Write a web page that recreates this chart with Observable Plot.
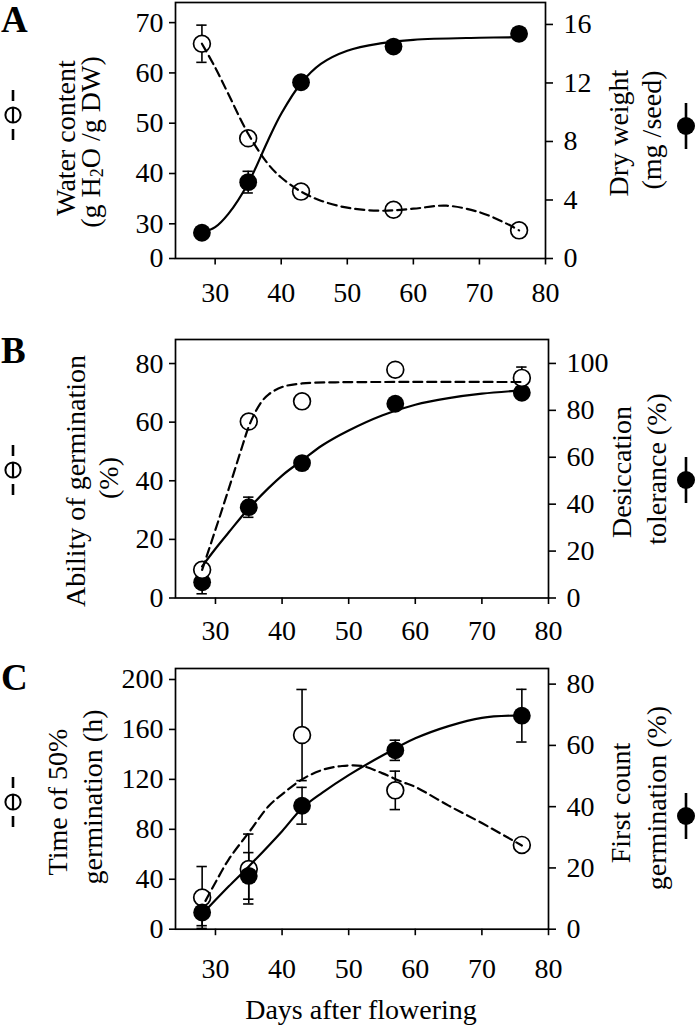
<!DOCTYPE html>
<html><head><meta charset="utf-8">
<script src="https://cdn.jsdelivr.net/npm/d3@7"></script>
<script src="https://cdn.jsdelivr.net/npm/@observablehq/plot@0.6"></script>
<style>
body{margin:0;background:#fff;}
#chart svg{display:block;}
</style>
</head><body><div id="chart"></div>
<script>
// ---------- shared ----------
const days = [28, 35, 43, 57, 76];
const xTicks = [30, 40, 50, 60, 70, 80];

// ---------- Panel A ----------
const waterContent    = [65.8, 47.0, 36.4, 32.8, 28.7];
const waterContentErr = [3.7, 0, 0, 0, 0];
const dryWeight       = [1.76, 5.22, 12.05, 14.49, 15.36];
const dryWeightErr    = [0, 0.74, 0, 0, 0];
const fitWaterDays    = [28, 30, 32, 35, 38, 40, 43, 46, 50, 55, 60, 65, 70, 74, 76];
const fitWaterVals    = [65.8, 61.1, 55.8, 47.9, 41.9, 39.2, 36.4, 34.6, 33.2, 32.6, 33.0, 33.6, 32.3, 30.1, 28.7];
const fitDryDays      = [28, 30, 32, 35, 38, 40, 43, 46, 50, 55, 60, 70, 76];
const fitDryVals      = [1.76, 2.14, 3.05, 5.15, 8.07, 9.89, 11.98, 13.3, 14.2, 14.7, 14.95, 15.09, 15.13];
const leftTicksA  = [0, 30, 40, 50, 60, 70];
const rightTicksA = [0, 4, 8, 12, 16];

// ---------- Panel B ----------
const germAbility     = [9.6, 60.2, 67.1, 77.9, 75.1];
const germAbilityErr  = [0, 0, 0, 0, 3.7];
const desiccTol       = [6.7, 38.7, 57.5, 82.8, 87.5];
const desiccTolErr    = [4.9, 4.3, 0, 0, 0];
const fitAbilityDays  = [28, 30, 32, 34, 35, 36, 37, 38, 40, 43, 48, 55, 76];
const fitAbilityVals  = [9.6, 23.3, 37.3, 51.6, 58.5, 63.5, 67.2, 69.5, 72.0, 73.2, 73.6, 73.7, 73.7];
const fitDesiccDays   = [28, 30, 32, 35, 40, 43, 46, 50, 55, 60, 65, 70, 76];
const fitDesiccVals   = [13.5, 21, 28, 38.2, 52.2, 58.6, 65, 71.4, 77.8, 82.4, 85.2, 87.1, 88.5];
const leftTicksB  = [0, 20, 40, 60, 80];
const rightTicksB = [0, 20, 40, 60, 80, 100];

// ---------- Panel C ----------
const time50          = [25.4, 48.2, 155.5, 111.2, 67.5];
const time50Err       = [24.8, 28, 36.5, 15.4, 0];
const firstCount      = [5.45, 17.4, 40.3, 58.4, 69.7];
const firstCountErr   = [4.3, 7.6, 6, 3.3, 8.6];
const fitTimeDays     = [28.5, 30, 32, 35, 38, 40, 43, 46, 49, 52, 55, 58, 60, 65, 70, 76];
const fitTimeVals     = [22.7, 37.4, 56, 77.4, 98.7, 108, 120, 127.5, 130.7, 130.7, 125, 118, 114, 99, 85, 67];
const fitFirstDays    = [28, 30, 32, 35, 40, 43, 46, 50, 55, 60, 65, 70, 76];
const fitFirstVals    = [4.9, 9.5, 14, 20.5, 32, 39.5, 44.5, 50.3, 56.6, 62.3, 66.3, 69, 69.8];
const leftTicksC  = [0, 40, 80, 120, 160, 200];
const rightTicksC = [0, 20, 40, 60, 80];

const FONT = "'Liberation Serif', 'Times New Roman', serif";
const TICKFS = 28;

function panel(cfg) {
  const toL = d3.scaleLinear().domain(cfg.rightDomain).range(cfg.leftDomain);
  const leftPos = v => (v === 0 && cfg.leftBreak != null) ? cfg.leftBreak : v;
  const leftLabel = new Map(cfg.leftTicks.map(v => [leftPos(v), String(v)]));
  const rightLabel = new Map(cfg.rightTicks.map(v => [toL(v), String(v)]));

  const open = days.map((d, i) => ({x: d, y: cfg.openVals[i], lo: cfg.openVals[i] - cfg.openErr[i], hi: cfg.openVals[i] + cfg.openErr[i], e: cfg.openErr[i]}));
  const filled = days.map((d, i) => ({x: d, y: toL(cfg.fillVals[i]), lo: toL(cfg.fillVals[i] - cfg.fillErr[i]), hi: toL(cfg.fillVals[i] + cfg.fillErr[i]), e: cfg.fillErr[i]}));
  const openFit = cfg.openFitDays.map((d, i) => ({x: d, y: cfg.openFitVals[i]}));
  const fillFit = cfg.fillFitDays.map((d, i) => ({x: d, y: toL(cfg.fillFitVals[i])}));

  const CAP = 0.78;
  const errMarks = rows => {
    const r = rows.filter(d => d.e > 0);
    return [
      Plot.ruleX(r, {x: "x", y1: "lo", y2: "hi", stroke: "black", strokeWidth: 1.6}),
      Plot.ruleY(r, {y: "lo", x1: d => d.x - CAP, x2: d => d.x + CAP, stroke: "black", strokeWidth: 1.6}),
      Plot.ruleY(r, {y: "hi", x1: d => d.x - CAP, x2: d => d.x + CAP, stroke: "black", strokeWidth: 1.6})
    ];
  };
  const openDots = Plot.dot(open, {x: "x", y: "y", r: 8.4, fill: "white", stroke: "black", strokeWidth: 1.7});
  const fillDots = Plot.dot(filled, {x: "x", y: "y", r: 8.9, fill: "black", stroke: "none"});

  const svg = Plot.plot({
    width: 696,
    height: cfg.height,
    marginLeft: 175,
    marginRight: cfg.marginRight,
    marginTop: cfg.marginTop,
    marginBottom: cfg.marginBottom,
    style: {fontFamily: FONT, fontSize: TICKFS + "px", background: "white", color: "black", overflow: "visible"},
    x: {domain: [24, 80]},
    y: {domain: cfg.leftDomain},
    marks: [
      Plot.axisX(xTicks, {tickSize: 6.5, tickPadding: cfg.xPad, strokeWidth: 1.6, label: null, fontSize: TICKFS}),
      Plot.axisY(cfg.leftTicks.map(leftPos), {anchor: "left", tickSize: 6, tickPadding: 6, strokeWidth: 1.6, label: null, tickFormat: d => leftLabel.get(d), fontSize: TICKFS}),
      Plot.axisY(cfg.rightTicks.map(toL), {anchor: "right", tickSize: 7, tickPadding: 11, strokeWidth: 1.6, label: null, tickFormat: d => rightLabel.get(d), fontSize: TICKFS}),
      ...errMarks(open),
      ...errMarks(filled),
      ...(cfg.openOnTop ? [fillDots, openDots] : [openDots, fillDots]),
      Plot.line(openFit, {x: "x", y: "y", curve: "catmull-rom", stroke: "black", strokeWidth: 2.2, strokeDasharray: "9,5"}),
      Plot.line(fillFit, {x: "x", y: "y", curve: "catmull-rom", stroke: "black", strokeWidth: 2.2}),
      Plot.frame({stroke: "black", strokeWidth: 1.7})
    ]
  });

  const s = d3.select(svg);
  // panel letter
  s.append("text").attr("x", 1).attr("y", cfg.letterY).attr("text-anchor", "start")
    .attr("font-family", FONT).attr("font-size", 37).attr("font-weight", "bold")
    .attr("fill", "black").text(cfg.letter);
  // axis titles (rotated)
  const addLabel = (lab) => {
    const t = s.append("text")
      .attr("transform", `translate(${lab.x},${lab.y}) rotate(-90)`)
      .attr("text-anchor", "middle").attr("dominant-baseline", "central")
      .attr("font-family", FONT).attr("font-size", 28).attr("fill", "black");
    if (lab.parts) {
      lab.parts.forEach(p => {
        const ts = t.append("tspan").text(p.t);
        if (p.sub) ts.attr("font-size", 18).attr("dy", 7);
        if (p.after) ts.attr("dy", -7);
      });
    } else t.text(lab.t);
  };
  cfg.labels.forEach(addLabel);
  // legend symbols
  const L = cfg.legL;
  s.append("line").attr("x1", 13).attr("x2", 13).attr("y1", L - 25).attr("y2", L - 14)
    .attr("stroke", "black").attr("stroke-width", 2.6);
  s.append("line").attr("x1", 13).attr("x2", 13).attr("y1", L - 7).attr("y2", L + 7)
    .attr("stroke", "black").attr("stroke-width", 2.2);
  s.append("line").attr("x1", 13).attr("x2", 13).attr("y1", L + 14).attr("y2", L + 25)
    .attr("stroke", "black").attr("stroke-width", 2.6);
  s.append("circle").attr("cx", 13).attr("cy", L).attr("r", 7.6)
    .attr("fill", "none").attr("stroke", "black").attr("stroke-width", 2);
  const R = cfg.legR;
  s.append("line").attr("x1", 686).attr("x2", 686).attr("y1", R - 23).attr("y2", R + 23)
    .attr("stroke", "black").attr("stroke-width", 2.6);
  s.append("circle").attr("cx", 686).attr("cy", R).attr("r", 9).attr("fill", "black");
  if (cfg.xLabel) {
    s.append("text").attr("x", 361).attr("y", cfg.xLabelY).attr("text-anchor", "middle")
      .attr("font-family", FONT).attr("font-size", 28).attr("fill", "black").text(cfg.xLabel);
  }
  return svg;
}

const root = document.getElementById("chart");

// Panel A: chart spans y 0..320
root.appendChild(panel({
  height: 320, marginTop: 2, marginBottom: 62, marginRight: 151, xPad: 17,
  leftDomain: [23.1, 74.0], leftBreak: 23.1, rightDomain: [0, 17.5],
  leftTicks: leftTicksA, rightTicks: rightTicksA,
  openVals: waterContent, openErr: waterContentErr,
  fillVals: dryWeight, fillErr: dryWeightErr,
  openFitDays: fitWaterDays, openFitVals: fitWaterVals,
  fillFitDays: fitDryDays, fillFitVals: fitDryVals,
  openOnTop: true,
  letter: "A", letterY: 32,
  labels: [
    {x: 65, y: 138, t: "Water content"},
    {x: 90, y: 142, parts: [{t: "(g H"}, {t: "2", sub: true}, {t: "O /g DW)", after: true}]},
    {x: 618, y: 133, t: "Dry weight"},
    {x: 651, y: 130, t: "(mg /seed)"}
  ],
  legL: 115, legR: 126
}));

// Panel B: chart spans y 320..650
root.appendChild(panel({
  height: 330, marginTop: 19, marginBottom: 52.5, marginRight: 148, xPad: 16,
  leftDomain: [0, 88.2], rightDomain: [0, 110.2],
  leftTicks: leftTicksB, rightTicks: rightTicksB,
  openVals: germAbility, openErr: germAbilityErr,
  fillVals: desiccTol, fillErr: desiccTolErr,
  openFitDays: fitAbilityDays, openFitVals: fitAbilityVals,
  fillFitDays: fitDesiccDays, fillFitVals: fitDesiccVals,
  openOnTop: true,
  letter: "B", letterY: 43,
  labels: [
    {x: 75, y: 161, t: "Ability of germination"},
    {x: 108, y: 158, t: "(%)"},
    {x: 621, y: 152, t: "Desiccation"},
    {x: 656, y: 149, t: "tolerance (%)"}
  ],
  legL: 150, legR: 160
}));

// Panel C: chart spans y 650..1025
root.appendChild(panel({
  height: 375, marginTop: 18, marginBottom: 96.3, marginRight: 148, xPad: 22,
  leftDomain: [0, 208.8], rightDomain: [0, 85.1],
  leftTicks: leftTicksC, rightTicks: rightTicksC,
  openVals: time50, openErr: time50Err,
  fillVals: firstCount, fillErr: firstCountErr,
  openFitDays: fitTimeDays, openFitVals: fitTimeVals,
  fillFitDays: fitFirstDays, fillFitVals: fitFirstVals,
  openOnTop: false,
  letter: "C", letterY: 40,
  labels: [
    {x: 57, y: 152, t: "Time of 50%"},
    {x: 92, y: 147, t: "germination (h)"},
    {x: 620, y: 153, t: "First count"},
    {x: 656, y: 148, t: "germination (%)"}
  ],
  legL: 152, legR: 166,
  xLabel: "Days after flowering", xLabelY: 369
}));
</script>
</body></html>
